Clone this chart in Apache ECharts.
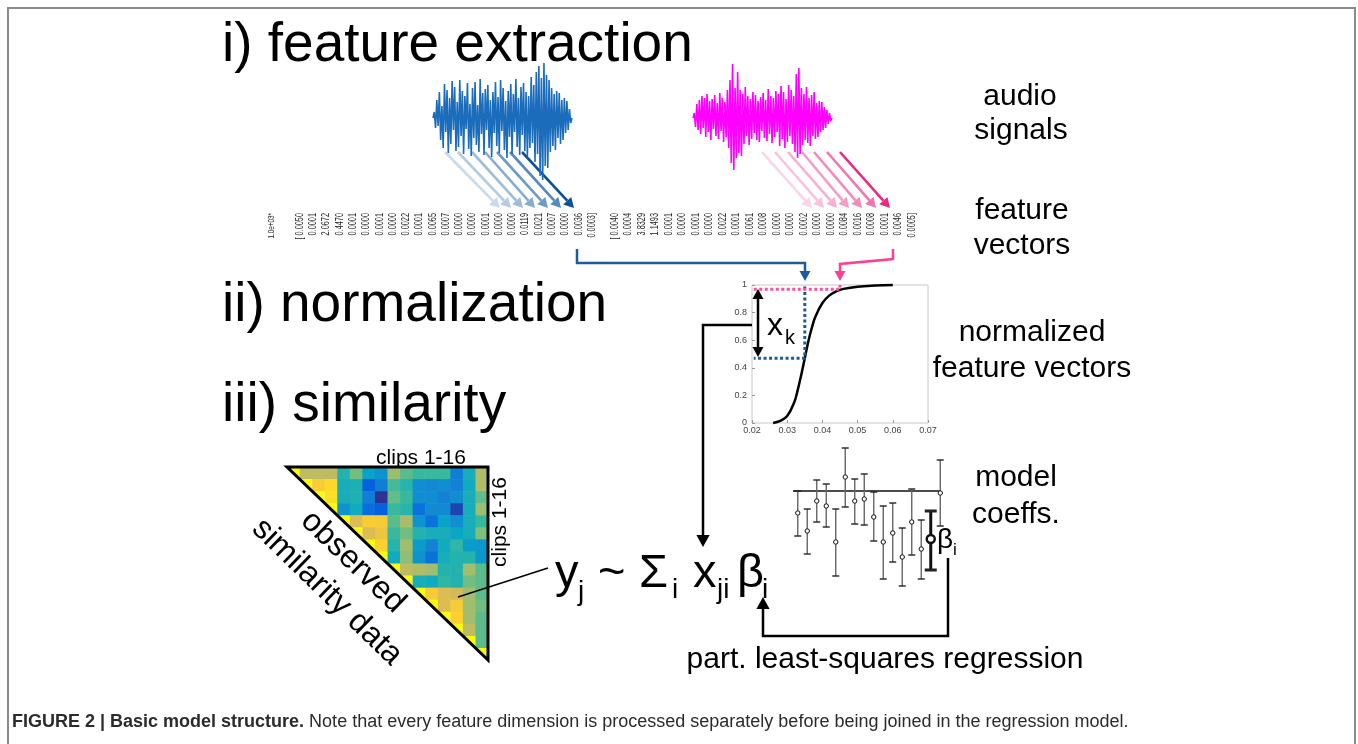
<!DOCTYPE html>
<html>
<head>
<meta charset="utf-8">
<script src="https://cdn.jsdelivr.net/npm/echarts@6/dist/echarts.min.js"></script>
<style>
  html, body { margin: 0; padding: 0; background: #fff; }
  #main { width: 1358px; height: 744px; }
</style>
</head>
<body>
<div id="main"></div>
<script>
// audio signals (amplitude samples)
const blueSignal = [
  0, 6, -10, 18, -8, 26, -22, 12, -30, 34,
  -14, 28, -35, 20, -26, 37, -12, 31, -33, 16,
  -29, 38, -18, 27, -36, 22, -11, 35, -31, 14,
  -38, 30, -20, 36, -27, 13, -34, 39, -16, 25,
  -37, 29, -12, 33, -30, 18, -39, 26, -15, 36,
  -28, 21, -35, 38, -13, 30, -32, 17, -40, 27,
  -19, 34, -36, 24, -14, 39, -29, 20, -37, 31,
  -17, 35, -33, 26, -38, 22, -30, 41, -25, 33,
  -44, 46, -36, 52, -58, 40, -62, 55, -48, 43,
  -50, 38, -34, 30, -28, 24, -32, 27, -20, 25,
  -26, 18, -22, 20, -15, 17, -12, 9, -5, 0
];
const pinkSignal = [
  0, 5, -9, 14, -12, 18, -16, 22, -10, 20,
  -19, 24, -14, 17, -22, 19, -11, 23, -18, 15,
  -21, 25, -13, 20, -24, 16, -19, 28, -30, 38,
  -45, 54, -52, 30, -40, 46, -35, 28, -38, 24,
  -26, 31, -18, 22, -27, 19, -21, 26, -15, 23,
  -22, 17, -24, 21, -13, 25, -20, 18, -23, 29,
  -16, 22, -25, 20, -19, 27, -14, 24, -28, 32,
  -21, 26, -30, 19, -24, 33, -18, 28, -26, 22,
  -34, 44, -40, 50, -36, 30, -27, 24, -22, 31,
  -25, 20, -28, 23, -18, 26, -21, 15, -19, 17,
  -14, 16, -12, 11, -10, 8, -6, 5, -3, 0
];

// feature vectors
const vectorScale = '1.0e+03*';
const blueVector = ['[ 0.0050', '0.0001', '2.0672', '0.4470', '0.0001', '0.0000', '0.0001', '0.0000',
  '0.0022', '0.0001', '0.0065', '0.0007', '0.0000', '0.0000', '0.0001', '0.0000', '0.0000',
  '0.0119', '0.0021', '0.0007', '0.0000', '0.0036', '0.0003]'];
const pinkVector = ['[ 0.0040', '0.0004', '3.8329', '1.1493', '0.0001', '0.0000', '0.0001', '0.0000',
  '0.0022', '0.0001', '0.0061', '0.0008', '0.0000', '0.0000', '0.0002', '0.0000', '0.0000',
  '0.0084', '0.0016', '0.0008', '0.0001', '0.0046', '0.0005]'];

// normalization curve
const sigmoidX = [0.026, 0.028, 0.030, 0.032, 0.033, 0.034, 0.035, 0.036, 0.037, 0.038, 0.040, 0.042, 0.044, 0.046, 0.050, 0.055, 0.060];
const sigmoidY = [0.0, 0.015, 0.05, 0.15, 0.24, 0.35, 0.47, 0.59, 0.69, 0.77, 0.87, 0.925, 0.955, 0.972, 0.988, 0.996, 1.0];
const blueFeature = 0.035, blueNorm = 0.47;
const pinkFeature = 0.045, pinkNorm = 0.97;

// observed similarity (upper triangle, each row starts at the diagonal)
const simRows = [
  [1, .70, .70, .70, .45, .58, .36, .30, .64, .55, .50, .50, .50, .22, .42, .68],
  [1, .86, .90, .42, .43, .12, .22, .52, .46, .28, .26, .28, .24, .40, .68],
  [1, .92, .42, .44, .22, .02, .56, .50, .28, .28, .24, .28, .42, .56],
  [1, .30, .40, .16, .12, .50, .46, .18, .26, .26, .06, .42, .64],
  [1, .76, .86, .85, .55, .66, .30, .18, .36, .28, .42, .50],
  [1, .76, .82, .50, .58, .45, .42, .42, .38, .42, .60],
  [1, .88, .46, .65, .34, .24, .40, .48, .34, .32],
  [1, .40, .62, .30, .18, .42, .45, .45, .33],
  [1, .70, .68, .65, .45, .45, .65, .55],
  [1, .42, .40, .48, .45, .58, .55],
  [1, .85, .76, .74, .65, .55],
  [1, .76, .85, .65, .58],
  [1, .88, .65, .55],
  [1, .70, .55],
  [1, .55],
  [1]
];
const parula = ['#352a87', '#0363e1', '#1485d4', '#06a7c6', '#38b99e', '#92bf73', '#d9ba56', '#fccf30', '#f9fb0e'];

// model coefficients with error bars
const coefMean = [-1.1, -2.0, -0.5, -0.75, -2.55, 0.7, -0.5, -0.4, -1.3, -2.55, -2.1, -3.3, -1.55, -2.9, -2.4, -0.1];
const coefHigh = [0, -0.9, 0.55, 0.35, -0.9, 2.15, 0.6, 0.85, -0.05, -0.75, -0.6, -1.85, 0.1, -1.45, -1.0, 1.55];
const coefLow = [-2.25, -3.15, -1.55, -1.8, -4.25, -0.8, -1.65, -1.7, -2.5, -4.4, -3.55, -4.75, -3.2, -4.4, -3.95, -1.75];
const boldCoef = 14;

const FONT = '"Liberation Sans", Arial, Helvetica, sans-serif';

function txt(text, x, y, size, extra) {
  return Object.assign({
    type: 'text', x: x, y: y, z: 20,
    style: { text: text, fontSize: size, fontFamily: FONT, fill: '#000', align: 'center', verticalAlign: 'middle' }
  }, extra || {});
}
function ltxt(text, x, y, size) {
  const e = txt(text, x, y, size);
  e.style.align = 'left';
  return e;
}

// polyline ending in a filled arrow head
function arrow(points, color, width, head) {
  const n = points.length;
  const x2 = points[n - 1][0], y2 = points[n - 1][1];
  const x1 = points[n - 2][0], y1 = points[n - 2][1];
  const len = Math.hypot(x2 - x1, y2 - y1);
  const ux = (x2 - x1) / len, uy = (y2 - y1) / len;
  const bx = x2 - ux * head, by = y2 - uy * head;
  const w = head * 0.55;
  return [
    { type: 'polyline', z: 15, shape: { points: points.slice(0, n - 1).concat([[bx, by]]) },
      style: { stroke: color, lineWidth: width, fill: null, lineJoin: 'miter' } },
    { type: 'polygon', z: 15, shape: { points: [[x2, y2], [bx - uy * w, by + ux * w], [bx + uy * w, by - ux * w]] },
      style: { fill: color } }
  ];
}

const elements = [];
// frame
elements.push({ type: 'rect', z: 1, shape: { x: 8, y: 8, width: 1347, height: 770 },
  style: { fill: null, stroke: '#8a8a8a', lineWidth: 2 } });

// headings
elements.push(ltxt('i) feature extraction', 222, 46, 55));
elements.push(ltxt('ii) normalization', 222, 306, 55));
elements.push(ltxt('iii) similarity', 222, 406, 55));

// right side labels
[['audio', 1020, 97], ['signals', 1021, 131], ['feature', 1022, 211], ['vectors', 1022, 246],
 ['normalized', 1032, 333], ['feature vectors', 1032, 369], ['model', 1016, 478], ['coeffs.', 1016, 515],
 ['part. least-squares regression', 885, 660]].forEach(function (l) {
  elements.push(txt(l[0], l[1], l[2], 30));
});

// feature vectors (rotated, reading upward)
function vecText(s, x, size) {
  return { type: 'text', x: x, y: 213, rotation: Math.PI / 2, scaleX: 0.7, z: 20,
    style: { text: s, fontSize: size, fontFamily: FONT, fill: '#222', align: 'right', verticalAlign: 'middle' } };
}
elements.push(vecText(vectorScale, 272, 9));
blueVector.forEach(function (s, i) { elements.push(vecText(s, 300 + i * 13.27, 10.5)); });
pinkVector.forEach(function (s, i) { elements.push(vecText(s, 615 + i * 13.5, 10.5)); });

// signal -> vector arrows
const blueArrowCols = ['#c9dbeb', '#b4cde4', '#9dbdda', '#86accf', '#6e9bc5', '#5789bb', '#0b5196'];
const pinkArrowCols = ['#fbd4e6', '#f9c3dc', '#f7b0d1', '#f59dc6', '#f38abb', '#f176b1', '#ea2a82'];
const blueStart = [445, 458, 472, 485, 497, 510, 522], blueEnd = [500, 511, 523, 535, 548, 561, 574];
const pinkStart = [762, 775, 788, 802, 814, 827, 840], pinkEnd = [812, 824, 837, 849, 862, 876, 890];
blueStart.forEach(function (x, i) {
  arrow([[x, 152], [blueEnd[i], 208]], blueArrowCols[i], 2.6, 10).forEach(function (e) { e.z = 3; elements.push(e); });
});
pinkStart.forEach(function (x, i) {
  arrow([[x, 152], [pinkEnd[i], 208]], pinkArrowCols[i], 2.6, 10).forEach(function (e) { e.z = 3; elements.push(e); });
});

// vector -> normalization connectors
arrow([[577, 249], [577, 263], [805, 263], [805, 281]], '#1b5a9b', 2.5, 10).forEach(function (e) { elements.push(e); });
arrow([[893, 249], [893, 259], [840, 264], [840, 281]], '#ff3f8f', 2.5, 10).forEach(function (e) { elements.push(e); });

// x_k double arrow and label
arrow([[758, 320], [758, 289]], '#000', 2.5, 10).forEach(function (e) { elements.push(e); });
arrow([[758, 320], [758, 357]], '#000', 2.5, 10).forEach(function (e) { elements.push(e); });
elements.push(ltxt('x', 767, 326, 32));
elements.push(ltxt('k', 785, 338, 20));

// normalized value -> regression
arrow([[752, 325], [703, 325], [703, 547]], '#000', 2.5, 12).forEach(function (e) { elements.push(e); });
// coefficient -> regression
arrow([[948, 558], [948, 636], [763, 636], [763, 597]], '#000', 2.5, 12).forEach(function (e) { elements.push(e); });
// similarity -> y_j
elements.push({ type: 'line', z: 15, shape: { x1: 458, y1: 597, x2: 548, y2: 568 }, style: { stroke: '#000', lineWidth: 1.5 } });

// regression formula
[['y', 555, 574, 47], ['j', 578, 592, 28], ['~', 598, 574, 47], ['Σ', 639, 574, 47], ['i', 672, 590, 28],
 ['x', 693, 574, 47], ['ji', 717, 590, 28], ['β', 737, 574, 47], ['i', 762, 590, 28]].forEach(function (f) {
  elements.push(ltxt(f[0], f[1], f[2], f[3]));
});
// beta label
elements.push(ltxt('β', 937, 540, 28));
elements.push(ltxt('i', 953, 550, 17));

// similarity triangle outline and labels
elements.push({ type: 'polygon', z: 12, shape: { points: [[287, 467], [488, 467], [488, 660]] },
  style: { fill: null, stroke: '#000', lineWidth: 3, lineJoin: 'miter' } });
elements.push(txt('clips 1-16', 421, 458, 21));
elements.push(txt('clips 1-16', 500, 522, 21, { rotation: Math.PI / 2 }));
elements.push(txt('observed', 353, 562, 32, { rotation: -0.77 }));
elements.push(txt('similarity data', 327, 592, 32, { rotation: -0.77 }));

// caption
elements.push({ type: 'text', x: 12, y: 722, z: 20,
  style: { text: '{b|FIGURE 2 | Basic model structure.} Note that every feature dimension is processed separately before being joined in the regression model.',
    fontSize: 18, fontFamily: FONT, fill: '#2b2b2b', align: 'left', verticalAlign: 'middle',
    rich: { b: { fontSize: 18, fontFamily: FONT, fontWeight: 'bold', fill: '#2b2b2b' } } } });

// heatmap cells
const simData = [];
simRows.forEach(function (row, r) {
  row.forEach(function (v, k) { simData.push([r + k, r, v]); });
});

const hidden = { show: false };
const option = {
  animation: false,
  backgroundColor: '#fff',
  grid: [
    { left: 433, top: 53, width: 139, height: 130 },
    { left: 693, top: 53, width: 139, height: 130 },
    { left: 752, top: 285, width: 176, height: 138, show: true, borderColor: '#c8c8c8', borderWidth: 1 },
    { left: 287, top: 467, width: 201, height: 193 },
    { left: 793, top: 441, width: 152, height: 150 }
  ],
  xAxis: [
    { gridIndex: 0, type: 'category', boundaryGap: false, data: blueSignal.map(function (_, i) { return i; }), axisLine: hidden, axisTick: hidden, axisLabel: hidden },
    { gridIndex: 1, type: 'category', boundaryGap: false, data: pinkSignal.map(function (_, i) { return i; }), axisLine: hidden, axisTick: hidden, axisLabel: hidden },
    { gridIndex: 2, type: 'value', min: 0.02, max: 0.07, interval: 0.01,
      axisLine: hidden, splitLine: hidden,
      axisTick: { inside: true, length: 3, lineStyle: { color: '#999' } },
      axisLabel: { fontSize: 9, color: '#444', margin: 3, fontFamily: FONT, formatter: function (v) { return v.toFixed(2); } } },
    { gridIndex: 3, type: 'value', min: 0, max: 16, show: false },
    { gridIndex: 4, type: 'value', min: 0.5, max: 16.5, show: false }
  ],
  yAxis: [
    { gridIndex: 0, type: 'value', min: -65, max: 65, show: false },
    { gridIndex: 1, type: 'value', min: -65, max: 65, show: false },
    { gridIndex: 2, type: 'value', min: 0, max: 1, interval: 0.2,
      axisLine: hidden, splitLine: hidden,
      axisTick: { inside: true, length: 3, lineStyle: { color: '#999' } },
      axisLabel: { fontSize: 9, color: '#444', margin: 5, fontFamily: FONT, formatter: function (v) { return v === 0 || v === 1 ? String(v) : v.toFixed(1); } } },
    { gridIndex: 3, type: 'value', min: 0, max: 16, inverse: true, show: false },
    { gridIndex: 4, type: 'value', min: -5, max: 2.5, show: false }
  ],
  visualMap: { show: false, type: 'continuous', seriesIndex: 5, dimension: 2, min: 0, max: 1, inRange: { color: parula } },
  series: [
    { type: 'line', xAxisIndex: 0, yAxisIndex: 0, data: blueSignal, symbol: 'none', z: 5,
      lineStyle: { color: '#1b6dbb', width: 1.6 } },
    { type: 'line', xAxisIndex: 1, yAxisIndex: 1, data: pinkSignal, symbol: 'none', z: 5,
      lineStyle: { color: '#ff00ff', width: 1.6 } },
    { type: 'line', xAxisIndex: 2, yAxisIndex: 2, symbol: 'none', smooth: 0.4, clip: false,
      data: sigmoidX.map(function (x, i) { return [x, sigmoidY[i]]; }),
      lineStyle: { color: '#000', width: 2.5 } },
    { type: 'line', xAxisIndex: 2, yAxisIndex: 2, symbol: 'none', clip: false, z: 4,
      data: [[blueFeature, 0.99], [blueFeature, blueNorm], [0.0205, blueNorm]],
      lineStyle: { color: '#1b5a9b', width: 3, type: [3, 2.5] } },
    { type: 'line', xAxisIndex: 2, yAxisIndex: 2, symbol: 'none', clip: false, z: 4,
      data: [[0.0205, pinkNorm], [pinkFeature, pinkNorm], [pinkFeature, 1.0]],
      lineStyle: { color: '#ff4f9a', width: 3, type: [3, 2.5] } },
    { type: 'custom', xAxisIndex: 3, yAxisIndex: 3, data: simData, z: 3,
      renderItem: function (params, api) {
        const c = api.value(0), r = api.value(1);
        const p0 = api.coord([c, r]), p1 = api.coord([c + 1, r + 1]);
        const color = api.visual('color');
        if (c === r) {
          return { type: 'polygon', shape: { points: [[p0[0], p0[1]], [p1[0], p0[1]], [p1[0], p1[1]]] }, style: { fill: color } };
        }
        return { type: 'rect', shape: { x: p0[0], y: p0[1], width: p1[0] - p0[0] + 0.6, height: p1[1] - p0[1] + 0.6 }, style: { fill: color } };
      } },
    { type: 'line', xAxisIndex: 4, yAxisIndex: 4, symbol: 'none', data: [[0.5, 0], [16, 0]],
      lineStyle: { color: '#111', width: 1.5 } },
    { type: 'custom', xAxisIndex: 4, yAxisIndex: 4, z: 4,
      data: coefMean.map(function (m, i) { return [i + 1, m, coefLow[i], coefHigh[i]]; }),
      renderItem: function (params, api) {
        const i = api.value(0);
        const mid = api.coord([i, api.value(1)]);
        const lo = api.coord([i, api.value(2)]);
        const hi = api.coord([i, api.value(3)]);
        const bold = params.dataIndex === boldCoef;
        const cap = bold ? 6 : 3.5;
        const lw = bold ? 3 : 1.4;
        const col = bold ? '#111' : '#666';
        return { type: 'group', children: [
          { type: 'line', shape: { x1: hi[0], y1: hi[1], x2: lo[0], y2: lo[1] }, style: { stroke: col, lineWidth: lw } },
          { type: 'line', shape: { x1: hi[0] - cap, y1: hi[1], x2: hi[0] + cap, y2: hi[1] }, style: { stroke: '#222', lineWidth: lw } },
          { type: 'line', shape: { x1: lo[0] - cap, y1: lo[1], x2: lo[0] + cap, y2: lo[1] }, style: { stroke: '#222', lineWidth: lw } },
          { type: 'circle', shape: { cx: mid[0], cy: mid[1], r: bold ? 4 : 2.2 }, style: { fill: '#fff', stroke: '#111', lineWidth: bold ? 2.5 : 1 } }
        ] };
      } }
  ],
  graphic: { elements: elements }
};

const chart = echarts.init(document.getElementById('main'));
chart.setOption(option);
</script>
</body>
</html>
